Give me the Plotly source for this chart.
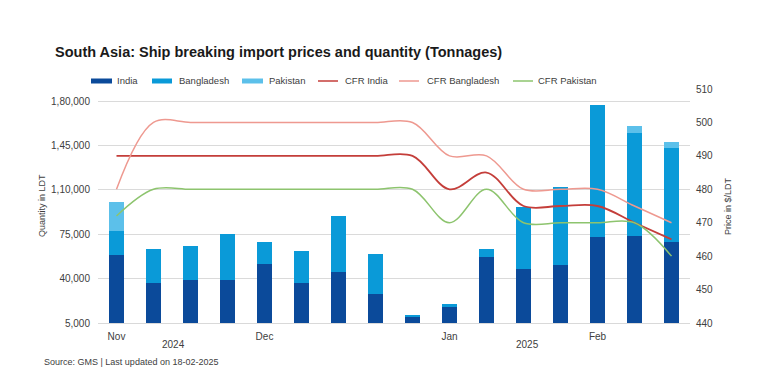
import plotly.graph_objects as go

# ---------------- data ----------------
weeks = ["Nov W1", "Nov W2", "Nov W3", "Nov W4", "Dec W1", "Dec W2", "Dec W3", "Dec W4",
         "Dec W5", "Jan W1", "Jan W2", "Jan W3", "Jan W4", "Feb W1", "Feb W2", "Feb W3"]
india      = [58600, 36300, 38900, 38900, 51700, 36300, 45200, 27600,
              10000, 17800, 57200, 47600, 50900, 72800, 73800, 68800]
bangladesh = [18900, 27200, 26800, 36200, 16900, 25400, 43900, 32000,
              1300, 2200, 6300, 48600, 61000, 104000, 81200, 74300]
pakistan   = [22500, 0, 0, 0, 0, 0, 0, 0,
              0, 0, 0, 0, 0, 0, 5200, 4800]
cfr_india      = [490, 490, 490, 490, 490, 490, 490, 490, 490, 480, 485, 475, 475, 475, 470, 465]
cfr_bangladesh = [480, 500, 500, 500, 500, 500, 500, 500, 500, 490, 490, 480, 480, 480, 475, 470]
cfr_pakistan   = [472, 480, 480, 480, 480, 480, 480, 480, 480, 470, 480, 470, 470, 470, 470, 460]

month_ticks = ["Nov W1", "Dec W1", "Jan W1", "Feb W1"]
month_labels = ["Nov", "Dec", "Jan", "Feb"]
year_labels = ["2024", "2025"]
year_pos = [1.53, 11.1]
qty_ticks = [5000, 40000, 75000, 110000, 145000, 180000]
qty_tick_labels = ["5,000", "40,000", "75,000", "1,10,000", "1,45,000", "1,80,000"]
price_ticks = [440, 450, 460, 470, 480, 490, 500, 510]

# ---------------- styles ----------------
C_INDIA = "#0B4A9A"
C_BANG = "#0A9AD8"
C_PAK = "#5CC0EA"
C_CFR_I = "#C43E3A"
C_CFR_B = "#EE9990"
C_CFR_P = "#8DC46E"
FONT = "Liberation Sans, Arial, sans-serif"
TXT = "#404040"

# plot area in page pixels (page has an 8px body margin)
PX0, PX1, PY0, PY1 = 98, 690, 89, 323
OFF = 8


def px(X):
    return (X - PX0) / (PX1 - PX0)


def py(Y):
    return (PY1 - Y) / (PY1 - PY0)


fig = go.Figure()
bar_series = [("India", india, C_INDIA), ("Bangladesh", bangladesh, C_BANG), ("Pakistan", pakistan, C_PAK)]
line_series = [("CFR India", cfr_india, C_CFR_I, 1.8), ("CFR Bangladesh", cfr_bangladesh, C_CFR_B, 1.5),
               ("CFR Pakistan", cfr_pakistan, C_CFR_P, 1.5)]
for name, vals, col in bar_series:
    fig.add_trace(go.Bar(x=weeks, y=vals, name=name, marker=dict(color=col, line=dict(width=0))))
for name, vals, col, w in line_series:
    fig.add_trace(go.Scatter(x=weeks, y=vals, name=name, yaxis="y2", mode="lines",
                             line=dict(color=col, width=w, shape="spline", smoothing=1.0)))

annotations = []
shapes = []
# custom legend (swatch start, swatch end, text start)
legend_pos = [(91, 112, 115), (152, 172, 177), (242, 263, 267),
              (318, 338, 343), (399, 419, 425), (513, 533, 536)]
LEG_Y = 81
for i, (x0, x1, xt) in enumerate(legend_pos):
    if i < 3:
        name, _, col = bar_series[i]
        shapes.append(dict(type="rect", xref="paper", yref="paper", x0=px(x0), x1=px(x1),
                           y0=py(LEG_Y + 2.5), y1=py(LEG_Y - 2.5), fillcolor=col, line=dict(width=0)))
    else:
        name, _, col, w = line_series[i - 3]
        shapes.append(dict(type="line", xref="paper", yref="paper", x0=px(x0), x1=px(x1),
                           y0=py(LEG_Y), y1=py(LEG_Y), line=dict(color=col, width=1.5)))
    annotations.append(dict(text=name, xref="paper", yref="paper", x=px(xt), y=py(LEG_Y),
                            xanchor="left", yanchor="middle", showarrow=False,
                            font=dict(family=FONT, size=9.5, color=TXT)))

annotations.append(dict(text="Quantity in LDT", xref="paper", yref="paper",
                        x=px(42), y=0.5, textangle=-90, showarrow=False,
                        xanchor="center", yanchor="middle",
                        font=dict(family=FONT, size=9, color=TXT)))
annotations.append(dict(text="Price in $/LDT", xref="paper", yref="paper",
                        x=px(728), y=0.5, textangle=-90, showarrow=False,
                        xanchor="center", yanchor="middle",
                        font=dict(family=FONT, size=9, color=TXT)))
for lab, pos in zip(year_labels, year_pos):
    annotations.append(dict(text=lab, x=pos, xref="x", yref="paper", y=py(344),
                            showarrow=False, xanchor="center", yanchor="middle",
                            font=dict(family=FONT, size=10, color=TXT)))
annotations.append(dict(text="Source: GMS | Last updated on 18-02-2025", xref="paper", yref="paper",
                        x=px(42), y=py(362), xanchor="left", yanchor="middle",
                        showarrow=False, font=dict(family=FONT, size=9, color=TXT)))
annotations.append(dict(text="<b>South Asia: Ship breaking import prices and quantity (Tonnages)</b>",
                        xref="paper", yref="paper", x=px(53), y=py(52), xanchor="left", yanchor="middle",
                        showarrow=False, font=dict(family=FONT, size=14.5, color="#1a1a1a")))

W, H = 778, 389
fig.update_layout(
    width=W, height=H,
    margin=dict(l=PX0 - OFF, r=W - (PX1 - OFF), t=PY0 - OFF, b=H - (PY1 - OFF), autoexpand=False),
    paper_bgcolor="white", plot_bgcolor="white",
    barmode="stack", bargap=0.595,
    font=dict(family=FONT, size=10, color=TXT),
    showlegend=False,
    xaxis=dict(type="category", tickmode="array", tickvals=month_ticks, ticktext=month_labels,
               showgrid=False, showline=True, linecolor="#D9D9D9", linewidth=1,
               ticks="outside", ticklen=4, tickcolor="rgba(0,0,0,0)",
               tickfont=dict(family=FONT, size=10, color=TXT), range=[-0.5, 15.5]),
    yaxis=dict(range=[5000, 5000 + 234 * (35000 / 44.4)], tickmode="array", tickvals=qty_ticks,
               ticktext=qty_tick_labels, showgrid=True, gridcolor="#DADADA", gridwidth=1,
               zeroline=False, showline=False, ticks="", ticklabelstandoff=7,
               tickfont=dict(family=FONT, size=10, color=TXT)),
    yaxis2=dict(range=[440, 510], overlaying="y", side="right", tickmode="array", tickvals=price_ticks,
                showgrid=False, zeroline=False, showline=False, ticks="", ticklabelstandoff=5,
                tickfont=dict(family=FONT, size=10, color=TXT)),
    annotations=annotations,
    shapes=shapes,
)

fig.write_html("out.html")
